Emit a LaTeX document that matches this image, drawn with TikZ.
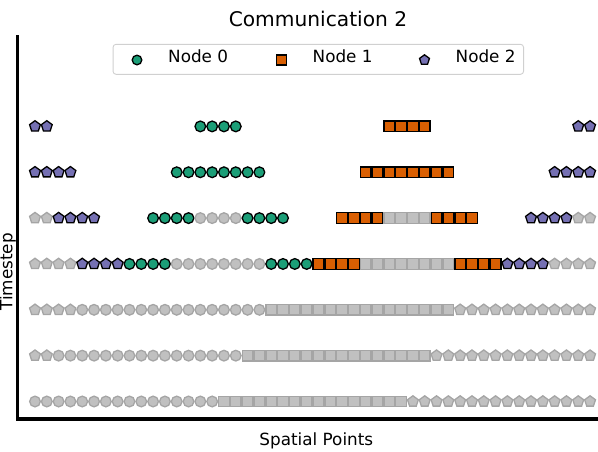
\documentclass[tikz,border=0pt]{standalone}
\usepackage{fontspec}
\setmainfont{DejaVu Sans}
\usetikzlibrary{shapes.geometric,positioning}
\definecolor{grn}{HTML}{1B9E77}
\definecolor{org}{HTML}{D95F02}
\definecolor{pur}{HTML}{7570B3}
\definecolor{gfill}{HTML}{C0C0C0}
\definecolor{gedge}{HTML}{A5A5A5}
\definecolor{keyedge}{HTML}{D0D0D0}
\begin{document}
\begin{tikzpicture}[x=1pt,y=-1pt,
  mk/.style={inner sep=0pt,outer sep=0pt,line width=1.3pt,draw=black},
  dot/.style={mk,circle,minimum size=10.7pt},
  box/.style={mk,rectangle,minimum size=10.6pt},
  pent/.style={mk,regular polygon,regular polygon sides=5,minimum size=11.4pt},
  gc/.style={dot,fill=gfill,draw=gedge},
  gs/.style={box,fill=gfill,draw=gedge},
  gp/.style={pent,fill=gfill,draw=gedge},
  c0/.style={dot,fill=grn},
  s1/.style={box,fill=org},
  p2/.style={pent,fill=pur},
  lbl/.style={inner sep=0pt,font=\fontsize{16.8}{20}\selectfont}]
  \useasboundingbox (0,0) rectangle (598,451);
  \node[inner sep=0pt,font=\fontsize{20.2}{24}\selectfont,anchor=base] (title) at (318,26) {Communication 2};
  \node[draw=keyedge,line width=0.9pt,rounded corners=3pt,inner sep=0pt,
        minimum width=410.5pt,minimum height=30pt] (key) at (318.3,59.3) {};
  \node[c0,minimum size=9.6pt] (k0) at (137,60) {};
  \node[lbl,anchor=base west] (t0) at (168,62.3) {Node 0};
  \node[s1,minimum size=9.8pt] (k1) at (281.5,60) {};
  \node[lbl,anchor=base west] (t1) at (312.5,62.3) {Node 1};
  \node[p2,minimum size=10.4pt] (k2) at (424.5,60) {};
  \node[lbl,anchor=base west] (t2) at (455.5,62.3) {Node 2};
  \draw[line width=3.2pt] (17.5,35) -- (17.5,419) -- (598,419);
  \node[lbl,anchor=base] (xlab) at (316.3,445.5) {Spatial Points};
  \node[lbl,anchor=base,rotate=90] (ylab) at (12.5,272) {Timestep};
  \foreach \r/\a/\b/\k in {0/0/15/gc, 0/16/31/gs, 0/32/47/gp,
      1/0/1/gp, 1/2/17/gc, 1/18/33/gs, 1/34/47/gp,
      2/0/3/gp, 2/4/19/gc, 2/20/35/gs, 2/36/47/gp,
      3/0/3/gp, 3/4/7/p2, 3/8/11/c0, 3/12/19/gc, 3/20/23/c0,
      3/24/27/s1, 3/28/35/gs, 3/36/39/s1, 3/40/43/p2, 3/44/47/gp,
      4/0/1/gp, 4/2/5/p2, 4/10/13/c0, 4/14/17/gc, 4/18/21/c0,
      4/26/29/s1, 4/30/33/gs, 4/34/37/s1, 4/42/45/p2, 4/46/47/gp,
      5/0/3/p2, 5/12/19/c0, 5/28/35/s1, 5/44/47/p2,
      6/0/1/p2, 6/14/17/c0, 6/30/33/s1, 6/46/47/p2}
    \foreach \i in {\a,...,\b}
      \node[\k] (m\r-\i) at ({35+11.81*\i},{401.5-45.85*\r}) {};
\end{tikzpicture}
\end{document}
